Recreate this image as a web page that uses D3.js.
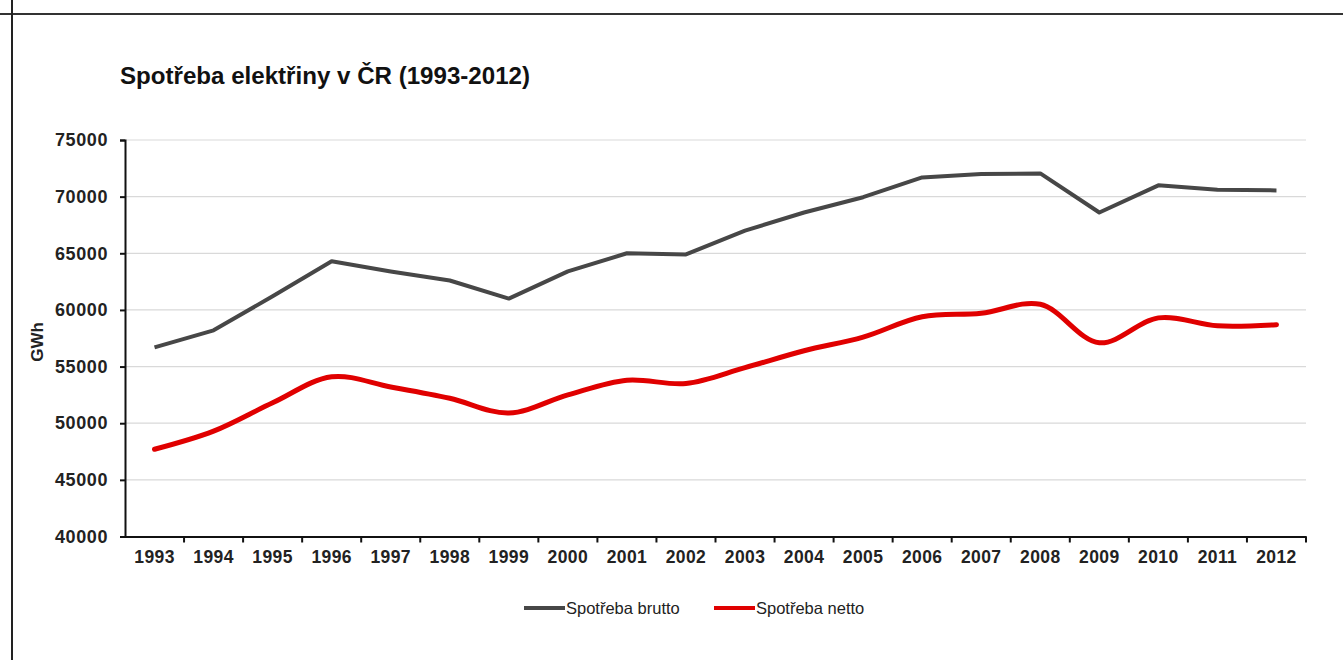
<!DOCTYPE html>
<html lang="cs">
<head>
    <meta charset="UTF-8">
    <title>Spotřeba elektřiny v ČR</title>
    <script src="https://cdn.jsdelivr.net/npm/d3@7"></script>
    <style>
      body { margin: 0; background: #fff; }
      svg { display: block; font-family: "Liberation Sans", Arial, sans-serif; }
    </style>
</head>
<body>

<script>
  // data (GWh)
  var years = ["1993", "1994", "1995", "1996", "1997", "1998", "1999", "2000", "2001", "2002",
               "2003", "2004", "2005", "2006", "2007", "2008", "2009", "2010", "2011", "2012"];
  var brutto = [56700, 58200, 61200, 64300, 63400, 62600, 61000, 63400, 65000, 64900,
                67000, 68600, 69950, 71700, 72000, 72050, 68600, 71000, 70600, 70550];
  var netto = [47700, 49300, 51800, 54100, 53200, 52200, 50900, 52500, 53800, 53500,
               54900, 56400, 57600, 59400, 59700, 60500, 57100, 59300, 58600, 58700];
  var yTicks = [40000, 45000, 50000, 55000, 60000, 65000, 70000, 75000];
  var seriesNames = ["Spotřeba brutto", "Spotřeba netto"];

  drawChart();

  function drawChart() {
    var width = 1343, height = 660;
    var left = 125, right = 1306, top = 140, bottom = 536.5;

    var svg = d3.select("body").append("svg")
      .attr("width", width)
      .attr("height", height);

    // page frame lines
    svg.append("line")
      .attr("x1", 0).attr("y1", 14).attr("x2", width).attr("y2", 14)
      .attr("stroke", "#333").attr("stroke-width", 2);
    svg.append("line")
      .attr("x1", 12).attr("y1", 0).attr("x2", 12).attr("y2", height)
      .attr("stroke", "#222").attr("stroke-width", 2);

    svg.append("text")
      .attr("x", 120).attr("y", 84)
      .attr("font-size", 24).attr("font-weight", "bold")
      .attr("fill", "#111")
      .attr("textLength", 410).attr("lengthAdjust", "spacingAndGlyphs")
      .text("Spotřeba elektřiny v ČR (1993-2012)");

    var x = d3.scaleBand().domain(years).range([left, right]).padding(0);
    var xEdge = d3.scaleLinear().domain([0, years.length]).range([left, right]);
    var y = d3.scaleLinear().domain([40000, 75000]).range([bottom, top]);

    // grid
    svg.append("g")
      .selectAll("line")
      .data(yTicks.slice(1))
      .join("line")
      .attr("x1", left).attr("x2", right)
      .attr("y1", d => y(d)).attr("y2", d => y(d))
      .attr("stroke", "#d9d9d9").attr("stroke-width", 1.2);

    // y axis
    var yAxis = svg.append("g")
      .attr("transform", "translate(" + left + ",0)")
      .call(d3.axisLeft(y).tickValues(yTicks).tickSize(5).tickPadding(12).tickFormat(d3.format("d")));
    yAxis.select(".domain").attr("stroke", "#111").attr("stroke-width", 2);
    yAxis.selectAll(".tick line").attr("stroke", "#111").attr("stroke-width", 2);
    yAxis.selectAll("text")
      .attr("font-size", 18).attr("font-weight", "bold").attr("fill", "#222")
      .attr("letter-spacing", 0.6)
      .attr("font-family", "'Liberation Sans', Arial, sans-serif");

    // x axis
    var xAxis = svg.append("g")
      .attr("transform", "translate(0," + bottom + ")")
      .call(d3.axisBottom(x).tickSize(0).tickPadding(14).tickSizeOuter(0));
    xAxis.select(".domain").attr("stroke", "#111").attr("stroke-width", 2);
    xAxis.selectAll("text")
      .attr("font-size", 17.5).attr("font-weight", "bold").attr("fill", "#222")
      .attr("letter-spacing", 0.4)
      .attr("font-family", "'Liberation Sans', Arial, sans-serif");
    svg.append("g")
      .selectAll("line")
      .data(d3.range(1, years.length + 1))
      .join("line")
      .attr("x1", d => xEdge(d)).attr("x2", d => xEdge(d))
      .attr("y1", bottom).attr("y2", bottom + 6)
      .attr("stroke", "#111").attr("stroke-width", 2);

    svg.append("text")
      .attr("transform", "translate(43,342) rotate(-90)")
      .attr("text-anchor", "middle")
      .attr("font-size", 17).attr("font-weight", "bold").attr("fill", "#222")
      .text("GWh");

    var cx = d => x(d) + x.bandwidth() / 2;

    var lineStraight = d3.line()
      .x((d, i) => cx(years[i]))
      .y(d => y(d));
    var lineSmooth = d3.line()
      .x((d, i) => cx(years[i]))
      .y(d => y(d))
      .curve(d3.curveCatmullRom.alpha(0.5));

    svg.append("path")
      .attr("d", lineStraight(brutto))
      .attr("fill", "none")
      .attr("stroke", "#474747")
      .attr("stroke-width", 4)
      .attr("stroke-linejoin", "round");

    svg.append("path")
      .attr("d", lineSmooth(netto))
      .attr("fill", "none")
      .attr("stroke", "#e00000")
      .attr("stroke-width", 5)
      .attr("stroke-linecap", "round");

    // legend
    var legend = [
      {name: seriesNames[0], color: "#474747", x: 524},
      {name: seriesNames[1], color: "#e00000", x: 714}
    ];
    var lg = svg.append("g").selectAll("g").data(legend).join("g")
      .attr("transform", d => "translate(" + d.x + ",608)");
    lg.append("line")
      .attr("x1", 0).attr("x2", 41).attr("y1", 0).attr("y2", 0)
      .attr("stroke", d => d.color).attr("stroke-width", 4);
    lg.append("text")
      .attr("x", 42).attr("y", 5.5)
      .attr("font-size", 16.5).attr("fill", "#222")
      .text(d => d.name);
  }
</script>
</body>
</html>
